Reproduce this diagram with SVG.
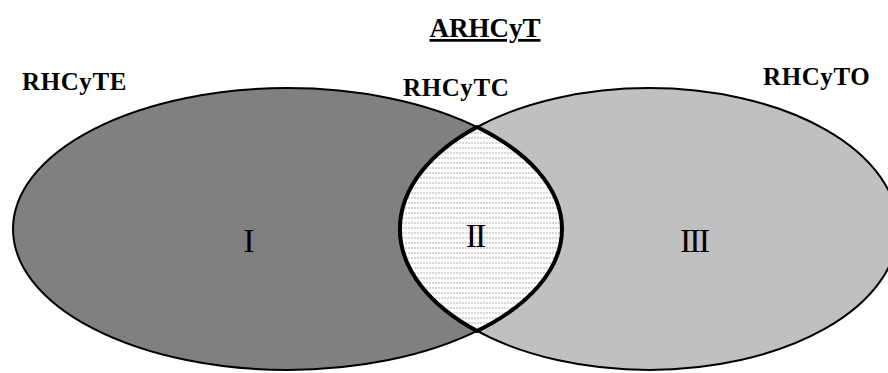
<svg xmlns="http://www.w3.org/2000/svg" width="888" height="373" viewBox="0 0 888 373">
<style>
.set{stroke:#000;stroke-width:2}
.lbl{font-family:"Liberation Serif","Times New Roman",serif;font-weight:bold;font-size:25px;letter-spacing:0.6px;fill:#000}
.num{font-family:"Liberation Serif","Times New Roman",serif;font-size:34px;fill:#000;text-anchor:middle}
</style>
<defs>
<pattern id="dots" x="0" y="0" width="3" height="5" patternUnits="userSpaceOnUse">
<rect width="3" height="5" fill="#fff"/>
<rect x="0" y="2" width="2" height="2" fill="#d6d6d6"/>
</pattern>
</defs>
<rect width="888" height="373" fill="#fff"/>
<text x="485" y="37" style="font-family:'Liberation Serif','Times New Roman',serif;font-weight:bold;font-size:27px;text-decoration:underline" text-anchor="middle">ARHCyT</text>
<g id="rhcyte">
<ellipse class="set" cx="287.5" cy="229" rx="274.5" ry="141" fill="#808080"/>
<text class="lbl" x="22" y="90">RHCyTE</text>
<text class="num" x="249" y="252">I</text>
</g>
<g id="rhcyto">
<ellipse class="set" cx="649" cy="229" rx="249" ry="141" fill="#c0c0c0"/>
<text class="lbl" x="763" y="85">RHCyTO</text>
<text class="num" x="694" y="252" letter-spacing="-2">III</text>
</g>
<g id="rhcytc">
<path d="M477 127 A249 141 0 0 0 477 331 A274.5 141 0 0 0 477 127 Z" fill="url(#dots)" stroke="#000" stroke-width="4" stroke-linejoin="round"/>
<text class="lbl" x="403" y="96">RHCyTC</text>
<text class="num" x="475" y="247" letter-spacing="-2">II</text>
</g>
</svg>
